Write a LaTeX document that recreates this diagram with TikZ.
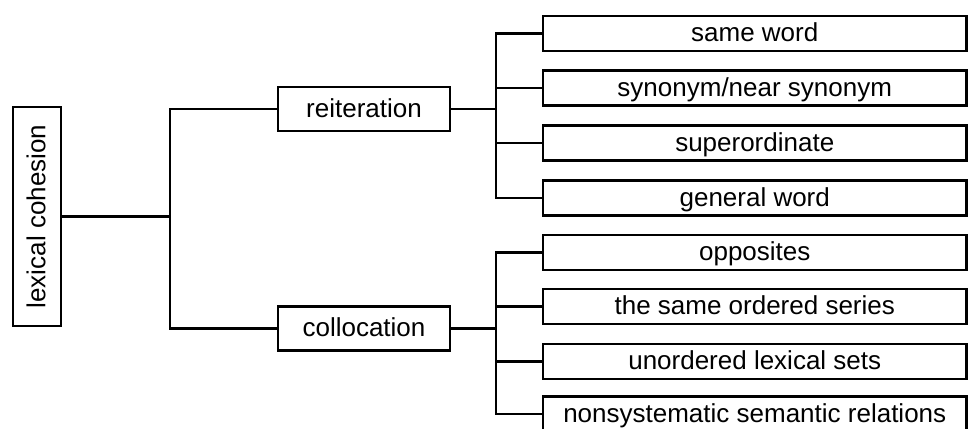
\documentclass[tikz,border=0pt]{standalone}
\usepackage{fontspec}
\setmainfont{Liberation Sans}
\begin{document}
\begin{tikzpicture}[x=1pt,y=-1pt,
  box/.style={draw=black,line width=2.4pt,inner sep=0pt,anchor=center,
    font=\fontsize{26}{30}\selectfont,text height=18.5pt,text depth=1.8pt},
  leaf/.style={box,minimum width=423.5pt,minimum height=35pt},
  mid/.style={box,minimum width=172pt,minimum height=44pt},
  conn/.style={line width=2.4pt}]
\clip (0,0) rectangle (968,428);
\node[box,rotate=90,minimum width=219pt,minimum height=48pt] (lc) at (37,216.5) {lexical cohesion};
\node[mid] (reit) at (364,109) {reiteration};
\node[mid] (coll) at (364,328.5) {collocation};
\node[leaf] (r1) at (754.75,33.5) {same word};
\node[leaf] (r2) at (754.75,88) {synonym/near synonym};
\node[leaf] (r3) at (754.75,143) {superordinate};
\node[leaf] (r4) at (754.75,198) {general word};
\node[leaf] (c1) at (754.75,252.5) {opposites};
\node[leaf] (c2) at (754.75,306.5) {the same ordered series};
\node[leaf] (c3) at (754.75,361.5) {unordered lexical sets};
\node[leaf] (c4) at (754.75,414) {nonsystematic semantic relations};
\coordinate (j1) at (170,216.5);
\coordinate (j2) at (496,109);
\coordinate (j3) at (496,328.5);
\draw[conn] (lc.south) -- (j1);
\draw[conn] (j1) |- (reit.west);
\draw[conn] (j1) |- (coll.west);
\draw[conn] (reit.east) -- (j2);
\draw[conn] (coll.east) -- (j3);
\foreach \n in {r1,r2,r3,r4} \draw[conn] (j2) |- (\n.west);
\foreach \n in {c1,c2,c3,c4} \draw[conn] (j3) |- (\n.west);
\end{tikzpicture}
\end{document}
